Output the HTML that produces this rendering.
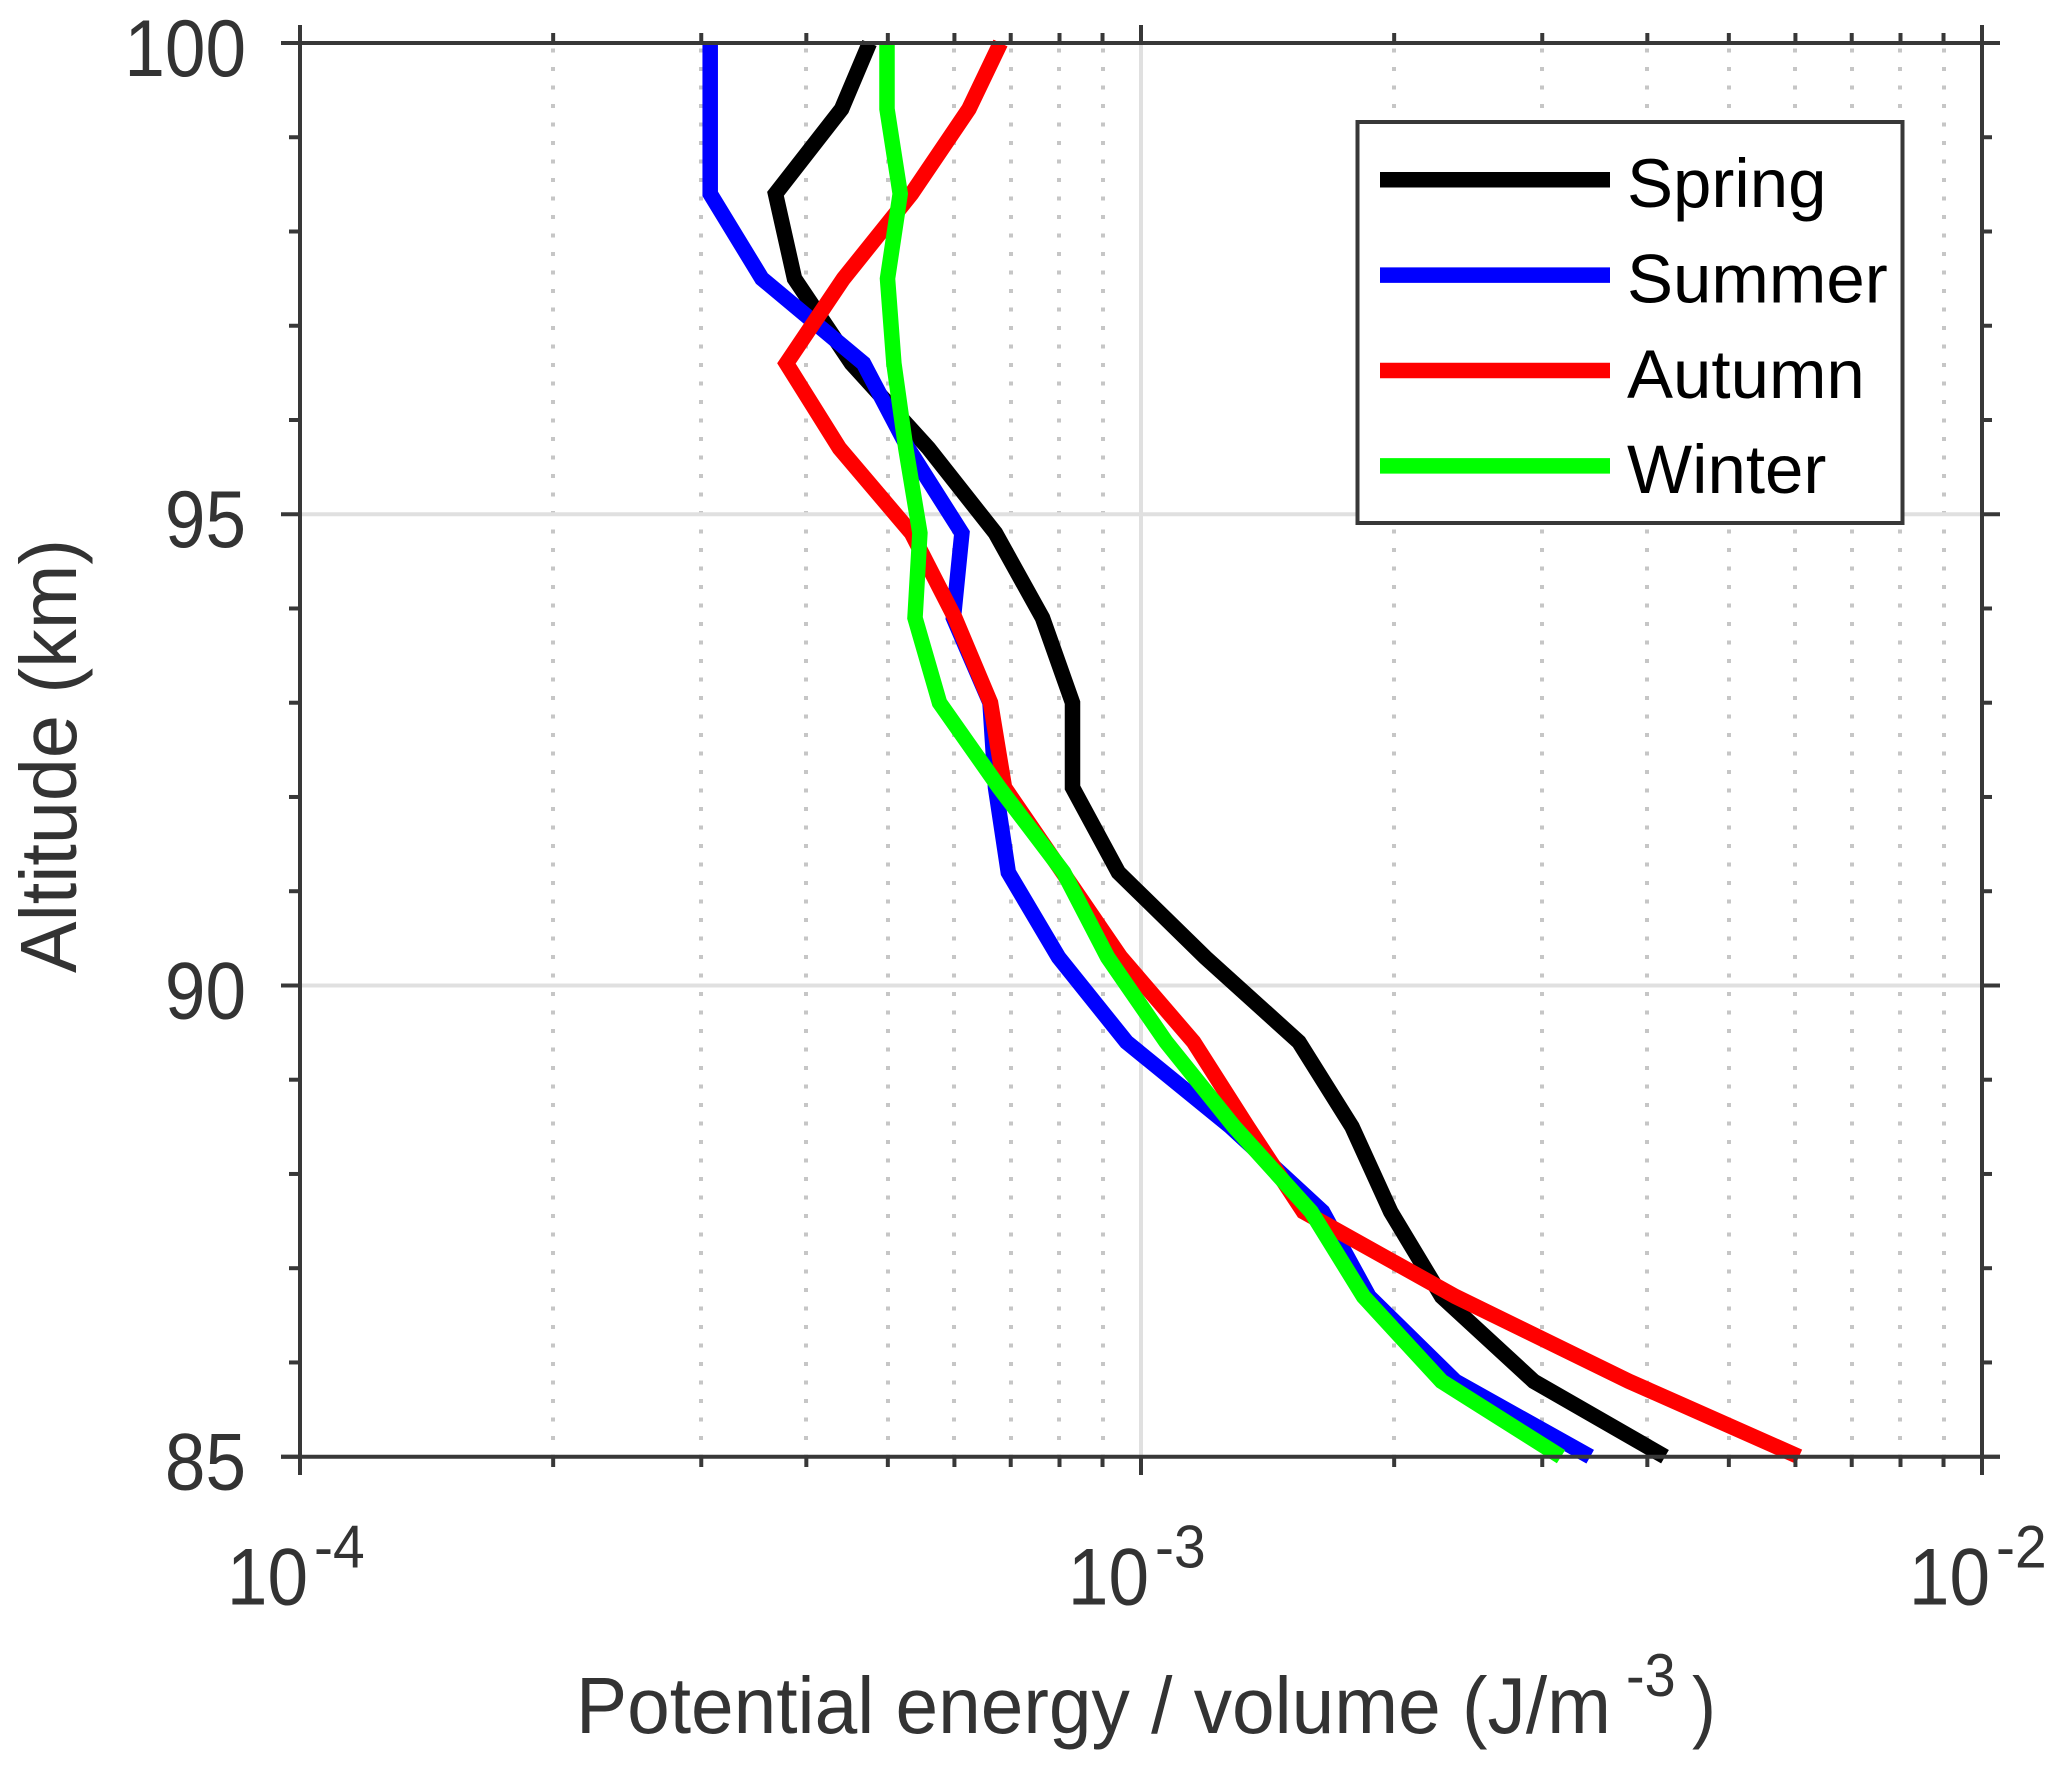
<!DOCTYPE html>
<html lang="en">
<head>
<meta charset="utf-8">
<title>Potential energy per volume vs altitude</title>
<style>
html,body{margin:0;padding:0;background:#fff;}
svg{display:block;font-family:"Liberation Sans",Arial,sans-serif;}
</style>
</head>
<body>
<svg id="chart" xmlns="http://www.w3.org/2000/svg" width="2067" height="1770" viewBox="0 0 2067 1770">
  <rect x="0" y="0" width="2067" height="1770" fill="#ffffff"/>
  <g id="grid"></g>
  <g id="series"></g>
  <g id="axes"></g>
  <g id="legend"></g>
  <text transform="translate(76 973) rotate(-90)" font-size="80" fill="#333333" textLength="434" lengthAdjust="spacingAndGlyphs">Altitude (km)</text>
  <text x="576" y="1733" font-size="80" fill="#333333" textLength="1035" lengthAdjust="spacingAndGlyphs">Potential energy / volume (J/m</text>
  <text transform="translate(1626 1696) scale(0.93 1)" font-size="60" fill="#333333">-3</text>
  <text transform="translate(1692 1733) scale(0.9 1)" font-size="80" fill="#333333">)</text>
</svg>
<script>
var altitudes = [100, 99.3, 98.4, 97.5, 96.6, 95.7, 94.8, 93.9, 93.0, 92.1, 91.2, 90.3, 89.4, 88.5, 87.6, 86.7, 85.8, 85];
var spring = [0.4755, 0.4405, 0.3676, 0.3872, 0.4527, 0.5589, 0.6713, 0.7636, 0.829, 0.829, 0.940, 1.192, 1.541, 1.782, 1.981, 2.278, 2.931, 4.198];
var summer = [0.3074, 0.3074, 0.3074, 0.3542, 0.4678, 0.5285, 0.6124, 0.5984, 0.6614, 0.6714, 0.6954, 0.7978, 0.9611, 1.278, 1.644, 1.867, 2.365, 3.421];
var autumn = [0.6807, 0.6243, 0.5335, 0.4429, 0.3788, 0.4380, 0.5335, 0.6007, 0.6623, 0.6882, 0.807, 0.946, 1.155, 1.339, 1.560, 2.365, 3.804, 6.059];
var winter = [0.4988, 0.4988, 0.5172, 0.4996, 0.5084, 0.5252, 0.5459, 0.5386, 0.5759, 0.6781, 0.809, 0.9125, 1.071, 1.291, 1.593, 1.839, 2.277, 3.158];
var seriesNames = ["Spring", "Summer", "Autumn", "Winter"];
var xMajorExponents = [-4, -3, -2];
var xMinorMultipliers = [2, 3, 4, 5, 6, 7, 8, 9];
var yMajorTicks = [85, 90, 95, 100];
var yMinorTicks = [86, 87, 88, 89, 91, 92, 93, 94, 96, 97, 98, 99];

var seriesColors = ["#000000", "#0000ff", "#ff0000", "#00ff00"];
var seriesValues = [spring, summer, autumn, winter];
var NS = "http://www.w3.org/2000/svg";
var PLOT = { left: 300, right: 1982, top: 43, bottom: 1456.7 };
var AXIS_COLOR = "#383838";
var TEXT_COLOR = "#333333";

function xScale(milliJoules) {
  var logValue = Math.log10(milliJoules * 1e-3);
  return PLOT.left + (logValue + 4) / 2 * (PLOT.right - PLOT.left);
}
function yScale(km) {
  return PLOT.bottom - (km - 85) / 15 * (PLOT.bottom - PLOT.top);
}
function make(tag, parent) {
  var el = document.createElementNS(NS, tag);
  parent.appendChild(el);
  return el;
}
function setLine(el, x1, y1, x2, y2, color, width) {
  el.setAttribute("x1", x1);
  el.setAttribute("y1", y1);
  el.setAttribute("x2", x2);
  el.setAttribute("y2", y2);
  el.setAttribute("stroke", color);
  el.setAttribute("stroke-width", width);
}

var gridG = document.getElementById("grid");
var seriesG = document.getElementById("series");
var axesG = document.getElementById("axes");
var legendG = document.getElementById("legend");

/* grid */
xMajorExponents.forEach(function (exp, i) {
  if (i < xMajorExponents.length - 1) {
    xMinorMultipliers.forEach(function (m) {
      var px = Math.round(xScale(m * Math.pow(10, exp + 3)));
      var dot = make("line", gridG);
      
      
      setLine(dot, px, PLOT.top + 5.5, px, PLOT.bottom, "#c6c6c6", 4);
      dot.setAttribute("stroke-dasharray", "4 14.5");
    });
  }
});
xMajorExponents.slice(1, -1).forEach(function (exp) {
  var px = xScale(Math.pow(10, exp + 3));
  var g1 = make("line", gridG);
  
  
  setLine(g1, px, PLOT.top, px, PLOT.bottom, "#e0e0e0", 4);
});
yMajorTicks.slice(1, -1).forEach(function (v) {
  var g2 = make("line", gridG);
  
  
  setLine(g2, PLOT.left, yScale(v), PLOT.right, yScale(v), "#e0e0e0", 4);
});

/* series */
seriesValues.forEach(function (values, s) {
  var pts = values.map(function (v, i) {
    return xScale(v).toFixed(1) + "," + yScale(altitudes[i]).toFixed(1);
  }).join(" ");
  var line = make("polyline", seriesG);
  
  
  line.setAttribute("data-series", seriesNames[s]);
  line.setAttribute("points", pts);
  line.setAttribute("fill", "none");
  line.setAttribute("stroke", seriesColors[s]);
  line.setAttribute("stroke-width", 15.5);
  line.setAttribute("stroke-linejoin", "miter");
  line.setAttribute("stroke-linecap", "butt");
});

/* axes box */
var topLine = make("line", axesG);


setLine(topLine, 281, PLOT.top, 2000, PLOT.top, AXIS_COLOR, 4);
var bottomLine = make("line", axesG);


setLine(bottomLine, 281, PLOT.bottom, 2000, PLOT.bottom, AXIS_COLOR, 4);
var leftLine = make("line", axesG);


setLine(leftLine, PLOT.left, 25, PLOT.left, 1475, AXIS_COLOR, 4);
var rightLine = make("line", axesG);


setLine(rightLine, PLOT.right, 25, PLOT.right, 1475, AXIS_COLOR, 4);

/* x ticks */
xMajorExponents.forEach(function (exp, i) {
  var px = xScale(Math.pow(10, exp + 3));
  if (i > 0 && i < xMajorExponents.length - 1) {
    var tTop = make("line", axesG);
    
    
    setLine(tTop, px, 25, px, PLOT.top, AXIS_COLOR, 4);
    var tBot = make("line", axesG);
    
    
    setLine(tBot, px, PLOT.bottom, px, 1475, AXIS_COLOR, 4);
  }
  var base = make("text", axesG);
  
  
  base.setAttribute("transform", "translate(" + (px + 8) + " 1604.5) scale(0.9 1)");
  base.setAttribute("text-anchor", "end");
  base.setAttribute("font-size", 81);
  base.setAttribute("fill", TEXT_COLOR);
  base.textContent = "10";
  var sup = make("text", axesG);
  
  
  sup.setAttribute("transform", "translate(" + (px + 14) + " 1567.5) scale(0.95 1)");
  sup.setAttribute("font-size", 60);
  sup.setAttribute("fill", TEXT_COLOR);
  sup.textContent = String(exp);
  if (i < xMajorExponents.length - 1) {
    xMinorMultipliers.forEach(function (m) {
      var mx = xScale(m * Math.pow(10, exp + 3));
      var a = make("line", axesG);
      
      
      setLine(a, mx, 33, mx, PLOT.top, AXIS_COLOR, 4);
      var b = make("line", axesG);
      
      
      setLine(b, mx, PLOT.bottom, mx, 1467, AXIS_COLOR, 4);
    });
  }
});

/* y ticks */
yMajorTicks.forEach(function (v) {
  var py = yScale(v);
  var t1 = make("line", axesG);
  
  
  setLine(t1, 281, py, PLOT.left, py, AXIS_COLOR, 4);
  var t2 = make("line", axesG);
  
  
  setLine(t2, PLOT.right, py, 2000, py, AXIS_COLOR, 4);
  var lab = make("text", axesG);
  
  
  lab.setAttribute("transform", "translate(246 " + (py + 33) + ") scale(0.9 1)");
  lab.setAttribute("text-anchor", "end");
  lab.setAttribute("font-size", 81);
  lab.setAttribute("fill", TEXT_COLOR);
  lab.textContent = String(v);
});
yMinorTicks.forEach(function (v) {
  var py = yScale(v);
  var m1 = make("line", axesG);
  
  
  setLine(m1, 289, py, PLOT.left, py, AXIS_COLOR, 4);
  var m2 = make("line", axesG);
  
  
  setLine(m2, PLOT.right, py, 1992, py, AXIS_COLOR, 4);
});

/* legend */
var box = make("rect", legendG);


box.setAttribute("x", 1357.5);
box.setAttribute("y", 122);
box.setAttribute("width", 545);
box.setAttribute("height", 401);
box.setAttribute("fill", "#ffffff");
box.setAttribute("stroke", AXIS_COLOR);
box.setAttribute("stroke-width", 4);
seriesNames.forEach(function (name, i) {
  var ly = 179.7 + i * 95.4;
  var swatch = make("line", legendG);
  
  
  setLine(swatch, 1380, ly, 1610, ly, seriesColors[i], 15.5);
  var entry = make("text", legendG);
  
  
  entry.setAttribute("x", 1627);
  entry.setAttribute("y", 207 + i * 95.4);
  entry.setAttribute("font-size", 69);
  entry.setAttribute("fill", "#000000");
  entry.textContent = name;
});
</script>
</body>
</html>
